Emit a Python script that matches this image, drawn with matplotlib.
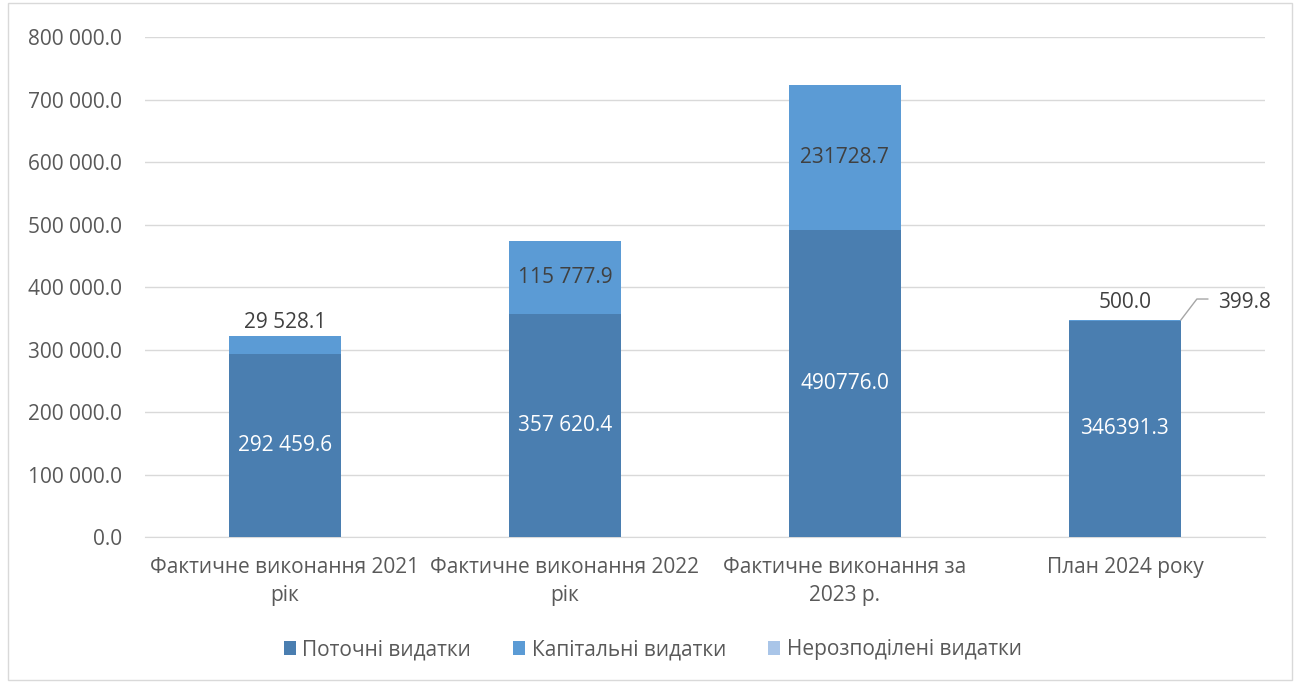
import matplotlib.pyplot as plt
from matplotlib.patches import Rectangle

# Дані
categories = ["Фактичне виконання 2021\nрік", "Фактичне виконання 2022\nрік",
              "Фактичне виконання за\n2023 р.", "План 2024 року"]
current = [292459.6, 357620.4, 490776.0, 346391.3]
capital = [29528.1, 115777.9, 231728.7, 500.0]
unallocated = [0.0, 0.0, 0.0, 399.8]

current_labels = ["292 459.6", "357 620.4", "490776.0", "346391.3"]
capital_labels = ["29 528.1", "115 777.9", "231728.7", "500.0"]
series_names = ["Поточні видатки", "Капітальні видатки", "Нерозподілені видатки"]
yticks = [0, 100000, 200000, 300000, 400000, 500000, 600000, 700000, 800000]

c_cur, c_cap, c_una = "#4a7eb0", "#5b9bd5", "#a9c5e8"
txt = "#404040"
fs = 15

plt.rcParams['font.family'] = ['Open Sans', 'DejaVu Sans']

fig = plt.figure(figsize=(13, 6.82), dpi=100)
ax = fig.add_axes([0.1115, 0.2126, 0.8615, 0.7331])
fig.add_artist(Rectangle((0.006, 0.003), 0.988, 0.992, transform=fig.transFigure,
                         fill=False, edgecolor="#d9d9d9", linewidth=1))

x = list(range(len(categories)))
w = 0.4
b1 = ax.bar(x, current, w, color=c_cur, label=series_names[0], zorder=3)
b2 = ax.bar(x, capital, w, bottom=current, color=c_cap, label=series_names[1], zorder=3)
bottom3 = [a + b for a, b in zip(current, capital)]
b3 = ax.bar(x, unallocated, w, bottom=bottom3, color=c_una, label=series_names[2], zorder=3)

# Підписи
for i in x:
    ax.text(i, current[i] / 2, current_labels[i], ha="center", va="center",
            color="white", fontsize=fs, zorder=4)
    if capital[i] > 60000:
        ax.text(i, current[i] + capital[i] / 2, capital_labels[i], ha="center",
                va="center", color=txt, fontsize=fs, zorder=4)
    else:
        off = 22000 if unallocated[i] == 0 else 28000
        ax.text(i, bottom3[i] + unallocated[i] + off, capital_labels[i], ha="center",
                va="center", color=txt, fontsize=fs, zorder=4)

# Нерозподілені видатки з виносною лінією
top = bottom3[3] + unallocated[3]
ax.plot([3 + w / 2, 3.257, 3.296], [top, 380800, 380800], color="#a6a6a6",
        lw=1, zorder=4, clip_on=False)
ax.text(3.332, 375000, "399.8", ha="left", va="center", color=txt, fontsize=fs)

ax.set_xlim(-0.5, 3.5)
ax.set_ylim(0, 800000)
ax.set_yticks(yticks)
ax.set_yticklabels([f"{v:,.1f}".replace(",", " ") for v in yticks])
ax.set_xticks(x)
ax.set_xticklabels(categories, linespacing=1.45)
ax.tick_params(axis="y", length=0, pad=16.5, labelsize=fs, labelcolor="#595959")
ax.tick_params(axis="x", length=0, pad=14.5, labelsize=fs, labelcolor="#595959")
ax.grid(axis="y", color="#d9d9d9", linewidth=1, zorder=0)
for s in ["top", "right", "left"]:
    ax.spines[s].set_visible(False)
ax.spines["bottom"].set_color("#d9d9d9")

fig.legend(handles=[b1, b2, b3], labels=series_names, loc="center",
           bbox_to_anchor=(0.502, 0.047), ncol=3, frameon=False, fontsize=fs,
           handlelength=0.6, handleheight=0.6, handletextpad=0.3, columnspacing=2.0,
           labelcolor="#595959")

plt.savefig("out.png", dpi=100)
